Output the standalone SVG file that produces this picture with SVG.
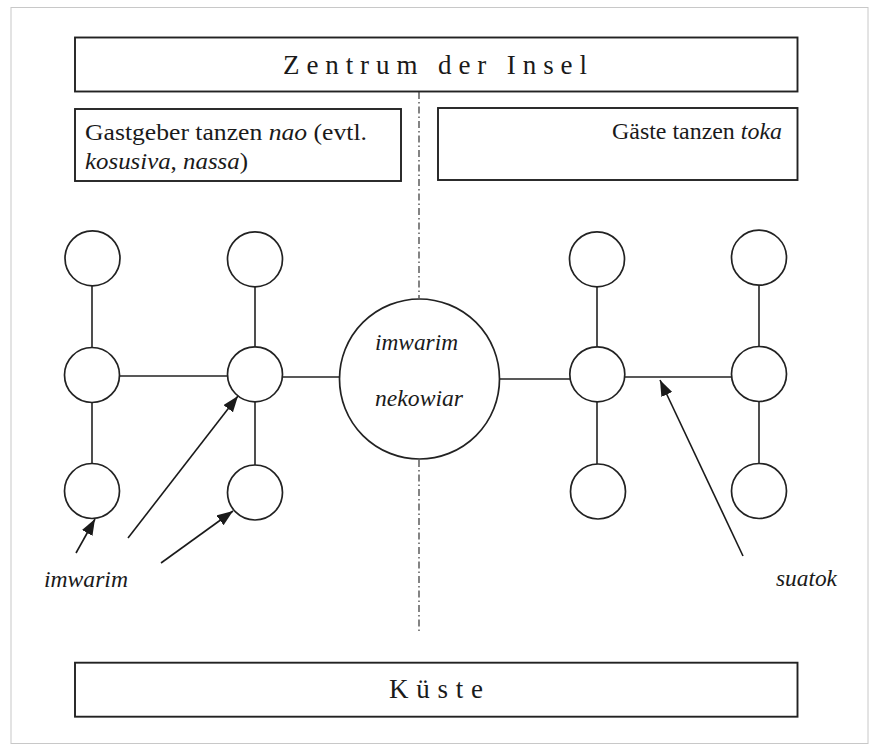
<svg xmlns="http://www.w3.org/2000/svg" width="870" height="745" viewBox="0 0 870 745">
<defs>
<marker id="ahL" viewBox="0 0 16 12" refX="16" refY="6" markerWidth="16" markerHeight="12" markerUnits="userSpaceOnUse" orient="auto">
<path d="M0,0 L16,6 L0,12 z" fill="#1a1a1a"/>
</marker>
</defs>
<style>
.box{fill:#fff;stroke:#222;stroke-width:1.9}
.node{fill:#fff;stroke:#222;stroke-width:1.7}
.edge{stroke:#222;stroke-width:1.6;fill:none}
.arrow{stroke:#1a1a1a;stroke-width:1.6;fill:none;marker-end:url(#ahL)}
.axis{stroke:#333;stroke-width:1.2;stroke-dasharray:7 3 1.5 3;fill:none}
.t{font-family:"Liberation Serif","Times New Roman",serif;fill:#1a1a1a}
.it{font-style:italic}
</style>
<rect x="11" y="7.5" width="857" height="736" fill="#fff" stroke="#c8c8c8" stroke-width="1"/>

<g id="zentrum">
<rect class="box" x="75" y="37.5" width="722.5" height="54"/>
<text class="t" x="283" y="74" font-size="27" textLength="304" lengthAdjust="spacing">Zentrum der Insel</text>
</g>
<g id="gastgeber">
<rect class="box" x="75" y="109" width="326" height="72"/>
<text class="t" x="85" y="140" font-size="23" textLength="282" lengthAdjust="spacingAndGlyphs">Gastgeber tanzen <tspan class="it">nao</tspan> (evtl.</text>
<text class="t" x="85" y="169" font-size="23" textLength="163" lengthAdjust="spacingAndGlyphs"><tspan class="it">kosusiva</tspan>, <tspan class="it">nassa</tspan>)</text>
</g>
<g id="gaeste">
<rect class="box" x="438" y="108" width="359.5" height="72"/>
<text class="t" x="612" y="139" font-size="23" textLength="170" lengthAdjust="spacingAndGlyphs">Gäste tanzen <tspan class="it">toka</tspan></text>
</g>
<g id="kueste">
<rect class="box" x="75" y="662.7" width="722.5" height="54"/>
<text class="t" x="389" y="698" font-size="27" textLength="94" lengthAdjust="spacing">Küste</text>
</g>

<g id="connectors">
<line class="axis" x1="419" y1="92" x2="419" y2="298"/>
<line class="axis" x1="419" y1="460" x2="419" y2="631"/>
<line class="edge" x1="92" y1="285.5" x2="92" y2="347.5"/>
<line class="edge" x1="92" y1="402.5" x2="92" y2="463.5"/>
<line class="edge" x1="119.5" y1="376" x2="227.5" y2="376"/>
<line class="edge" x1="255" y1="286.8" x2="255" y2="346.8"/>
<line class="edge" x1="255" y1="401.8" x2="255" y2="465"/>
<line class="edge" x1="282.5" y1="377" x2="340" y2="377"/>
<line class="edge" x1="499" y1="379" x2="570" y2="379"/>
<line class="edge" x1="597" y1="286.8" x2="597" y2="346.8"/>
<line class="edge" x1="597" y1="401.8" x2="597" y2="464"/>
<line class="edge" x1="624.5" y1="377" x2="731.5" y2="377"/>
<line class="edge" x1="759" y1="285" x2="759" y2="346.5"/>
<line class="edge" x1="759" y1="401.5" x2="759" y2="463.5"/>
<line class="arrow" x1="76" y1="553" x2="95" y2="519"/>
<line class="arrow" x1="128" y1="538" x2="238" y2="396"/>
<line class="arrow" x1="161" y1="563" x2="233" y2="511"/>
<line class="arrow" x1="743" y1="556" x2="660" y2="380"/>
</g>

<g id="n-l1-top"><circle class="node" cx="92.5" cy="258.3" r="27.5"/></g>
<g id="n-l1-mid"><circle class="node" cx="92" cy="375" r="27.5"/></g>
<g id="n-l1-bot"><circle class="node" cx="92" cy="491" r="27.5"/></g>
<g id="n-l2-top"><circle class="node" cx="255" cy="259.3" r="27.5"/></g>
<g id="n-l2-mid"><circle class="node" cx="255" cy="374.3" r="27.5"/></g>
<g id="n-l2-bot"><circle class="node" cx="255" cy="492.5" r="27.5"/></g>
<g id="n-center">
<circle class="node" cx="419.5" cy="379" r="80"/>
<text class="t it" x="375" y="350" font-size="24" textLength="83" lengthAdjust="spacingAndGlyphs">imwarim</text>
<text class="t it" x="375" y="406" font-size="24" textLength="88" lengthAdjust="spacingAndGlyphs">nekowiar</text>
</g>
<g id="n-r1-top"><circle class="node" cx="597" cy="259.3" r="27.5"/></g>
<g id="n-r1-mid"><circle class="node" cx="597.3" cy="374.3" r="27.5"/></g>
<g id="n-r1-bot"><circle class="node" cx="598" cy="491.5" r="27.5"/></g>
<g id="n-r2-top"><circle class="node" cx="759" cy="257.7" r="27.5"/></g>
<g id="n-r2-mid"><circle class="node" cx="759" cy="374" r="27.5"/></g>
<g id="n-r2-bot"><circle class="node" cx="759" cy="491" r="27.5"/></g>

<g id="label-imwarim">
<text class="t it" x="44" y="587" font-size="24" textLength="84" lengthAdjust="spacingAndGlyphs">imwarim</text>
</g>
<g id="label-suatok">
<text class="t it" x="776" y="586" font-size="24" textLength="61" lengthAdjust="spacingAndGlyphs">suatok</text>
</g>
</svg>
